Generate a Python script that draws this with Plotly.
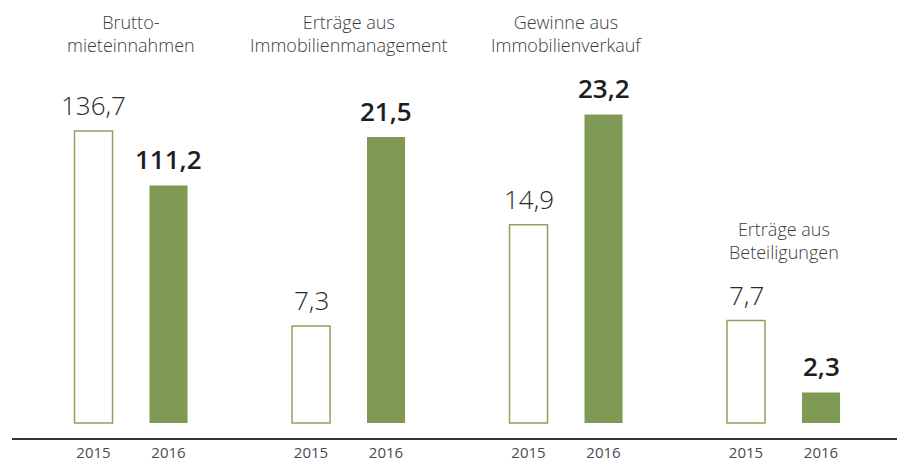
import plotly.graph_objects as go

# Revenue components, EUR million
categories = [
    "Brutto-<br>mieteinnahmen",
    "Erträge aus<br>Immobilienmanagement",
    "Gewinne aus<br>Immobilienverkauf",
    "Erträge aus<br>Beteiligungen",
]
years = ["2015", "2016"]
values_2015 = [136.7, 7.3, 14.9, 7.7]
values_2016 = [111.2, 21.5, 23.2, 2.3]
# group 0 uses its own scale, the remaining groups share a second one
axis_of_group = ["y", "y2", "y2", "y2"]

GREEN = "#7f9a54"
OUTLINE = "#8aa65e"
FONT = "Open Sans"

W, H = 897, 462
M_L, M_R, M_T, M_B = 12, 0, 80, 24
plot_h = H - M_T - M_B
base_gap = 15          # px between zero line and axis line
px_per_unit = {"y": 2.136, "y2": 13.3}

group_step = 2.9
bar_w = 0.507
x_min = -1.087
x_max = x_min + (W - M_L - M_R) / 75.0


def fmt(v):
    return f"{v:.1f}".replace(".", ",")


fig = go.Figure()
annotations = []
tickvals, ticktext = [], []

for g, cat in enumerate(categories):
    ax = axis_of_group[g]
    x0 = g * group_step
    x1 = x0 + 1
    fig.add_trace(go.Bar(
        x=[x0], y=[values_2015[g]], width=bar_w, yaxis=ax,
        marker=dict(color="white", line=dict(color=OUTLINE, width=1.5)),
        showlegend=False, hoverinfo="skip",
    ))
    fig.add_trace(go.Bar(
        x=[x1], y=[values_2016[g]], width=bar_w, yaxis=ax,
        marker=dict(color=GREEN, line=dict(width=0)),
        showlegend=False, hoverinfo="skip",
    ))
    yref = ax
    annotations.append(dict(
        x=x0, y=values_2015[g], xref="x", yref=yref, text=fmt(values_2015[g]),
        showarrow=False, yanchor="bottom", yshift=6,
        font=dict(family=FONT, size=26, color="#2a2a2a", weight=300),
    ))
    annotations.append(dict(
        x=x1, y=values_2016[g], xref="x", yref=yref, text=fmt(values_2016[g]),
        showarrow=False, yanchor="bottom", yshift=6,
        font=dict(family=FONT, size=26, color="#1e1e1e", weight=600),
    ))
    tickvals += [x0, x1]
    ticktext += years

# category titles: three on top, the last one sits above its bars
title_px = [34, 34, 34, 240]
for g, cat in enumerate(categories):
    annotations.append(dict(
        x=g * group_step + 0.5, xref="x",
        y=(H - M_B - title_px[g]) / plot_h, yref="paper",
        text=cat, showarrow=False, yanchor="middle", align="center",
        font=dict(family=FONT, size=18, color="#3c3c3c", weight=300),
    ))


def yrange(ax):
    s = px_per_unit[ax]
    return [-base_gap / s, (plot_h - base_gap) / s]


fig.update_layout(
    width=W, height=H,
    margin=dict(l=M_L, r=M_R, t=M_T, b=M_B, autoexpand=False),
    paper_bgcolor="white", plot_bgcolor="white",
    barmode="overlay",
    annotations=annotations,
    xaxis=dict(
        range=[x_min, x_max], tickvals=tickvals, ticktext=ticktext,
        showgrid=False, zeroline=False, showline=True, automargin=False,
        linecolor="#333333", linewidth=1.5,
        ticks="", ticklen=0,
        tickfont=dict(family=FONT, size=15, color="#4a4a4a", weight=400),
    ),
    yaxis=dict(range=yrange("y"), visible=False, showgrid=False,
               zeroline=False, automargin=False),
    yaxis2=dict(range=yrange("y2"), visible=False, showgrid=False,
                zeroline=False, overlaying="y", automargin=False),
)

fig.write_html("out.html")
